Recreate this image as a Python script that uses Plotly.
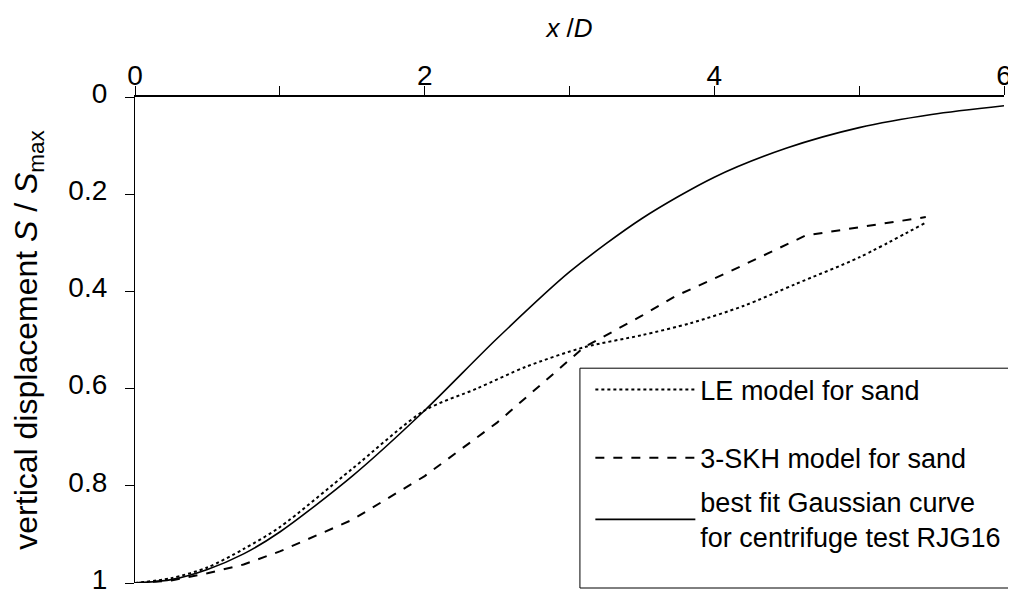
import plotly.graph_objects as go

# Data
x_solid = [0.0, 0.25, 0.5, 0.75, 1.0, 1.5, 2.0, 2.5, 3.0, 3.5, 4.0, 4.5, 5.0, 5.5, 6.0]
y_solid = [1.0, 0.993, 0.972, 0.94, 0.895, 0.78, 0.645, 0.497, 0.36, 0.25, 0.165, 0.105, 0.063, 0.036, 0.018]

x_le = [0.0, 0.25, 0.5, 0.75, 1.0, 1.5, 2.0, 2.36, 2.7, 3.1, 3.5, 3.84, 4.2, 4.56, 5.0, 5.45]
y_le = [1.0, 0.99, 0.968, 0.93, 0.885, 0.765, 0.645, 0.60, 0.555, 0.515, 0.49, 0.465, 0.43, 0.385, 0.33, 0.26]

x_skh = [0.0, 0.25, 0.5, 0.75, 1.0, 1.5, 2.0, 2.5, 3.1, 3.5, 3.73, 4.1, 4.63, 5.0, 5.46]
y_skh = [1.0, 0.995, 0.98, 0.962, 0.935, 0.87, 0.78, 0.67, 0.515, 0.45, 0.41, 0.36, 0.285, 0.268, 0.247]

names = ["LE model for sand", "3-SKH model for sand",
         "best fit Gaussian curve<br>for centrifuge test RJG16"]

x_tickvals = [0, 2, 4, 6]
x_ticktext = ["0", "2", "4", "6"]
x_minor_tickvals = [1, 3, 5]
y_tickvals = [0, 0.2, 0.4, 0.6, 0.8, 1.0]
y_ticktext = ["0", "0.2", "0.4", "0.6", "0.8", "1"]

FONT = "Liberation Sans, Arial, sans-serif"

fig = go.Figure()
fig.add_trace(go.Scatter(x=x_le, y=y_le, mode="lines", name=names[0],
                         line=dict(color="black", width=2, dash="dot",
                                   shape="spline", smoothing=0.8),
                         legend="legend"))
fig.add_trace(go.Scatter(x=x_skh, y=y_skh, mode="lines", name=names[1],
                         line=dict(color="black", width=2, dash="dash"),
                         legend="legend2"))
fig.add_trace(go.Scatter(x=x_solid, y=y_solid, mode="lines", name=names[2],
                         line=dict(color="black", width=1.6,
                                   shape="spline", smoothing=0.8),
                         legend="legend3"))

# legend frame (opaque box, as in the reference)
fig.add_shape(type="rect", xref="paper", yref="paper",
              x0=0.512, x1=1.05, y0=-0.0103, y1=0.442,
              line=dict(color="black", width=1), fillcolor="white", layer="above")

leg_common = dict(x=0.524, xanchor="left", yanchor="middle",
                  bgcolor="rgba(0,0,0,0)", borderwidth=0,
                  font=dict(size=27, family=FONT), itemwidth=100, valign="middle")

fig.update_layout(
    width=1008, height=587,
    margin=dict(l=127, r=12, t=89, b=12, autoexpand=False),
    paper_bgcolor="white", plot_bgcolor="white",
    font=dict(family=FONT, color="black", size=26),
    showlegend=True,
    legend=dict(y=0.397, **leg_common),
    legend2=dict(y=0.257, **leg_common),
    legend3=dict(y=0.130, **leg_common),
    xaxis=dict(side="top", range=[0, 6], tickvals=x_tickvals, ticktext=x_ticktext,
               ticks="outside", ticklen=9, tickcolor="black", showline=True,
               linecolor="black", linewidth=2, showgrid=False, zeroline=False,
               minor=dict(tickvals=x_minor_tickvals, ticks="outside", ticklen=9,
                          tickcolor="black", showgrid=False),
               automargin=False, ticklabeloverflow="allow", ticklabelstandoff=-10,
               tickfont=dict(size=28, family=FONT),
               title=dict(text="<i>x</i> /<i>D</i>", font=dict(size=26, family=FONT),
                          standoff=15)),
    yaxis=dict(range=[1.0, 0], tickvals=y_tickvals, ticktext=y_ticktext,
               ticks="outside", ticklen=9, tickcolor="black", showline=True,
               linecolor="black", linewidth=1.3, showgrid=False, zeroline=False,
               automargin=False, ticklabeloverflow="allow", ticklabelstandoff=12,
               ticklabelshift=4,
               tickfont=dict(size=28, family=FONT),
               title=dict(text="vertical displacement <i>S</i> / <i>S</i><sub>max</sub>",
                          font=dict(size=32, family=FONT), standoff=25)),
)

fig.write_html("out.html")
